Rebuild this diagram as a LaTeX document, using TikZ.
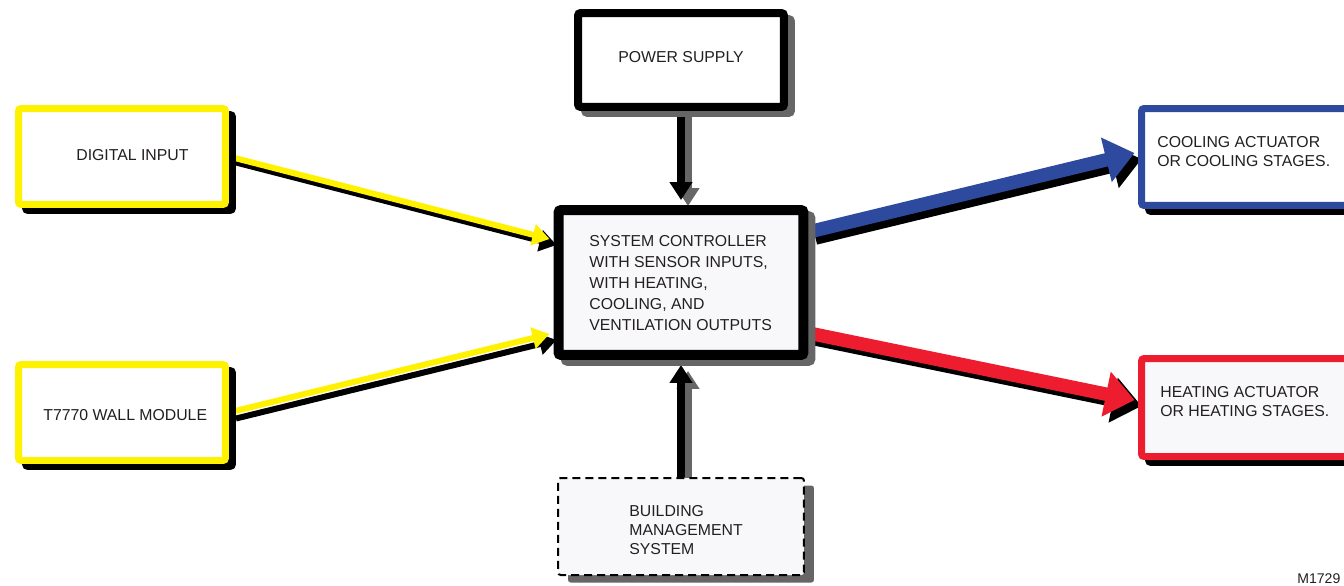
\documentclass[tikz,border=0pt]{standalone}
\usepackage{fontspec}
\setmainfont{Liberation Sans}
\usepackage{xcolor}
\usetikzlibrary{shapes,arrows.meta,positioning,calc,shadows,backgrounds}

\definecolor{sigyellow}{HTML}{FFF200}
\definecolor{coolblue}{HTML}{2E4A9E}
\definecolor{heatred}{HTML}{ED1C2E}
\definecolor{shadowgray}{HTML}{666666}
\definecolor{textgray}{HTML}{231F20}
\definecolor{paper}{HTML}{F8F8FA}

\begin{document}
\begin{tikzpicture}[
            x=0.02cm, y=-0.02cm,
            box/.style={draw, rectangle, rounded corners=1.5pt, fill=white, inner sep=0pt,
                line width=0.14cm, minimum width=4.14cm, minimum height=1.92cm},
            cast/.style 2 args={drop shadow={shadow xshift=0.14cm, shadow yshift=-0.12cm,
                fill=#1, draw=#1, line width=#2, opacity=1}},
            txt/.style={anchor=west, align=left, text=textgray, inner sep=0pt,
                font=\fontsize{9pt}{10.8pt}\selectfont},
            thin arrow/.style={line width=0.12cm, -{Triangle[width=0.42cm, length=0.34cm]}},
            fat arrow/.style={line width=0.27cm, -{Triangle[width=0.88cm, length=0.58cm]}},
            feed arrow/.style={line width=0.15cm, -{Triangle[width=0.44cm, length=0.36cm]}},
            offset/.style={transform canvas={shift={(0.14cm,-0.12cm)}}}
        ]
            \useasboundingbox (0,0) rectangle (1344,585);

            % Boxes
            \node[box, draw=sigyellow, cast={black}{0.14cm}] (digital) at (122,156.5) {};
            \node[box, draw=sigyellow, cast={black}{0.14cm}] (wallmod) at (122,412.5) {};
            \node[box, draw=black, line width=0.16cm, minimum width=4.12cm, minimum height=1.88cm,
                cast={shadowgray}{0.16cm}] (power) at (681,60) {};
            \node[box, draw=black, fill=paper, line width=0.2cm, minimum width=4.9cm, minimum height=2.9cm,
                cast={shadowgray}{0.2cm}] (ctrl) at (681,282.5) {};
            \node[box, draw=coolblue, minimum width=4.3cm, minimum height=1.94cm,
                cast={black}{0.14cm}] (cool) at (1249,157) {};
            \node[box, draw=heatred, fill=paper, minimum width=4.3cm, minimum height=1.96cm,
                cast={black}{0.14cm}] (heat) at (1249,407.5) {};
            \node[box, draw=black, fill=paper, line width=0.04cm, dash pattern=on 0.16cm off 0.1cm,
                minimum width=4.92cm, minimum height=1.94cm,
                drop shadow={shadow xshift=0.2cm, shadow yshift=-0.15cm, fill=shadowgray, opacity=1}] (bms) at (681,526.5) {};

            % Labels
            \node[txt] (digitaltxt) at (76,155) {DIGITAL INPUT};
            \node[txt] (wallmodtxt) at (43,415) {T7770 WALL MODULE};
            \node[txt] (powertxt) at (618,57) {POWER SUPPLY};
            \node[txt, font=\fontsize{9pt}{11.95pt}\selectfont] (ctrltxt) at (589,283)
                {SYSTEM CONTROLLER\\WITH SENSOR INPUTS,\\WITH HEATING,\\COOLING, AND\\VENTILATION OUTPUTS};
            \node[txt] (cooltxt) at (1157,151.5) {COOLING ACTUATOR\\OR COOLING STAGES.};
            \node[txt] (heattxt) at (1160,401.5) {HEATING ACTUATOR\\OR HEATING STAGES.};
            \node[txt] (bmstxt) at (629,530) {BUILDING\\MANAGEMENT\\SYSTEM};
            \node[txt, anchor=north west, font=\fontsize{8pt}{9pt}\selectfont] (figno) at (1297,573) {M1729};

            % Connectors
            \begin{pgfonlayer}{background}
            \draw[thin arrow, black, offset] (digital.east) -- ([xshift=-0.08cm, yshift=0.87cm]ctrl.west);
            \draw[thin arrow, sigyellow] (digital.east) -- ([xshift=-0.08cm, yshift=0.87cm]ctrl.west);
            \draw[thin arrow, black, offset] (wallmod.east) -- ([xshift=-0.08cm, yshift=-1.03cm]ctrl.west);
            \draw[thin arrow, sigyellow] (wallmod.east) -- ([xshift=-0.08cm, yshift=-1.03cm]ctrl.west);

            \draw[fat arrow, black, offset] ([yshift=1.01cm]ctrl.east) -- ([xshift=-0.07cm, yshift=0.08cm]cool.west);
            \draw[fat arrow, coolblue] ([yshift=1.01cm]ctrl.east) -- ([xshift=-0.07cm, yshift=0.08cm]cool.west);
            \draw[fat arrow, black, offset] ([yshift=-1.01cm]ctrl.east) -- ([xshift=-0.07cm, yshift=0.15cm]heat.west);
            \draw[fat arrow, heatred] ([yshift=-1.01cm]ctrl.east) -- ([xshift=-0.07cm, yshift=0.15cm]heat.west);

            \draw[feed arrow, shadowgray, offset] (power.south) -- ([yshift=0.1cm]ctrl.north);
            \draw[feed arrow, black] (power.south) -- ([yshift=0.1cm]ctrl.north);
            \draw[feed arrow, shadowgray, offset] (bms.north) -- ([yshift=-0.1cm]ctrl.south);
            \draw[feed arrow, black] (bms.north) -- ([yshift=-0.1cm]ctrl.south);
            \end{pgfonlayer}
        \end{tikzpicture}
\end{document}
